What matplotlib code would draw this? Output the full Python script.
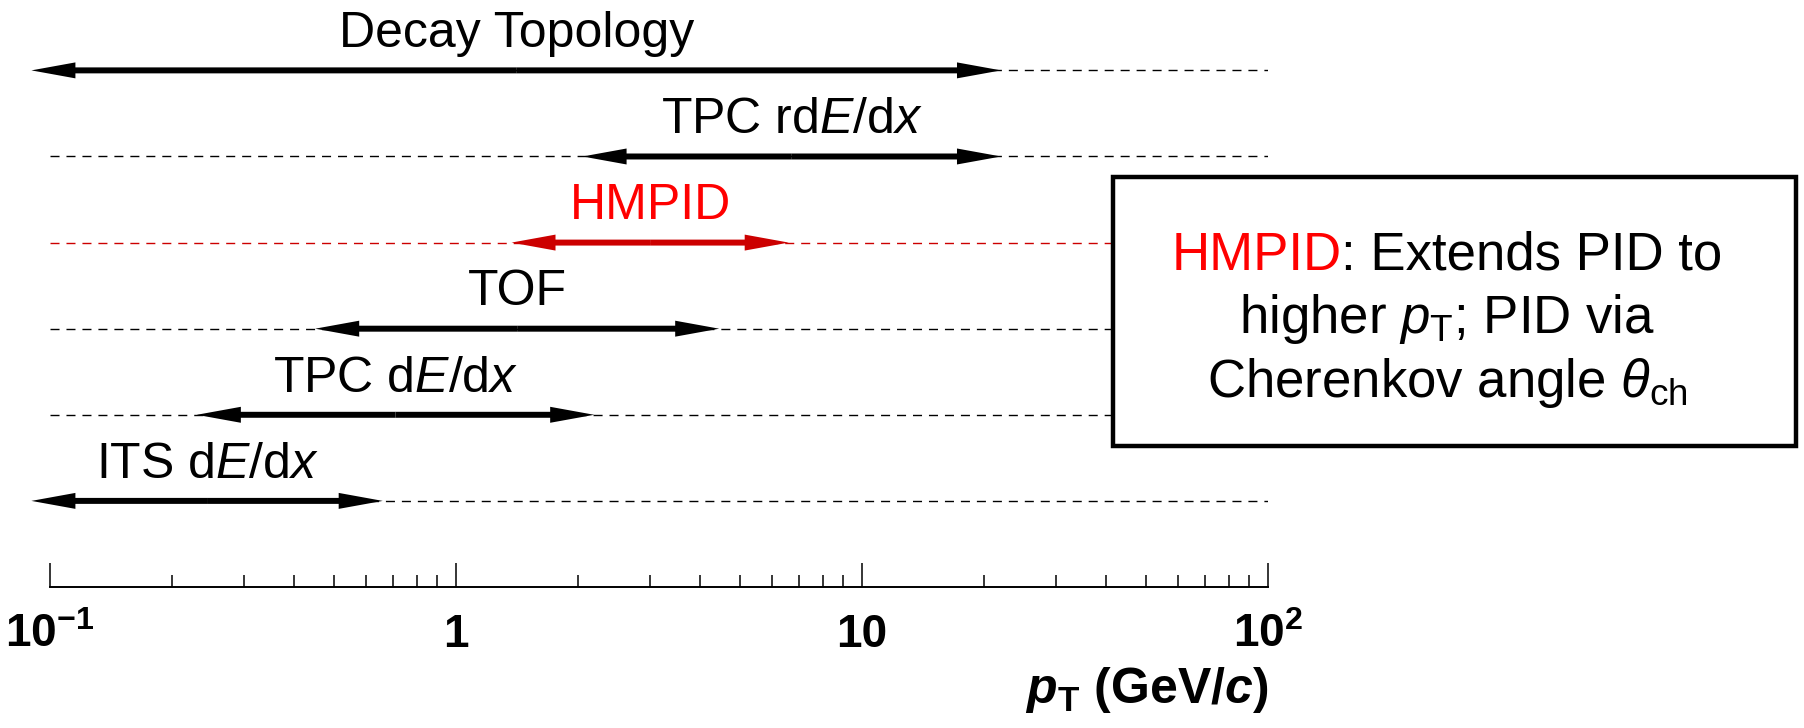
import numpy as np
import matplotlib
matplotlib.use("Agg")
import matplotlib.pyplot as plt
from matplotlib.patches import FancyArrowPatch, Rectangle, ArrowStyle
from matplotlib.ticker import FixedLocator, NullFormatter

plt.rcParams['font.family'] = ['Liberation Sans', 'DejaVu Sans']
plt.rcParams['mathtext.fontset'] = 'custom'
plt.rcParams['mathtext.rm'] = 'Liberation Sans'
plt.rcParams['mathtext.it'] = 'Liberation Sans:italic'
plt.rcParams['mathtext.bf'] = 'Liberation Sans:bold'
try:
    plt.rcParams['mathtext.bfit'] = 'Liberation Sans:italic:bold'
except KeyError:
    pass

# detectors, from top row to bottom row
names = ['Decay Topology', r'TPC rd$E$/d$x$', 'HMPID', 'TOF', r'TPC d$E$/d$x$', r'ITS d$E$/d$x$']
pt_lo = [0.09, 2.05, 1.37, 0.45, 0.23, 0.09]
pt_hi = [22.0, 22.0, 6.6, 4.45, 2.19, 0.66]
rows = [6, 5, 4, 3, 2, 1]
colors = ['black', 'black', '#cc0000', 'black', 'black', 'black']
text_colors = ['black', 'black', '#ff0000', 'black', 'black', 'black']

tick_vals = [0.1, 1, 10, 100]
tick_text = [r'$\mathbf{10^{-1}}$', '1', '10', r'$\mathbf{10^{2}}$']

W, H = 1804, 728
fig = plt.figure(figsize=(W / 100, H / 100), dpi=100)
ax = fig.add_axes([25.6 / W, (H - 587) / H, (1268 - 25.6) / W, 585.5 / H])
ax.set_xscale('log')
ax.set_xlim(10 ** -1.06, 100)
ax.set_ylim(0, 6.8)

for s in ['left', 'right', 'top']:
    ax.spines[s].set_visible(False)
ax.spines['bottom'].set_position(('data', 0))
ax.spines['bottom'].set_bounds(0.1, 100)
ax.spines['bottom'].set_linewidth(1.4)
ax.set_yticks([])
ax.xaxis.set_major_locator(FixedLocator(tick_vals))
minor = [m * 10.0 ** e for e in range(-1, 2) for m in range(2, 10)]
ax.xaxis.set_minor_locator(FixedLocator(minor))
ax.xaxis.set_minor_formatter(NullFormatter())
ax.tick_params(axis='x', which='major', direction='in', length=17.3, width=1.1, labelbottom=False)
ax.tick_params(axis='x', which='minor', direction='in', length=8.6, width=1.1, labelbottom=False)

for v, t in zip(tick_vals, tick_text):
    ax.text(v, -0.70, t, ha='center', va='baseline', fontsize=33, fontweight='bold', clip_on=False)

# dashed guide lines
for y, c in zip(rows, colors):
    ax.plot([0.1, 100], [y, y], color=c, lw=1.0, ls=(0, (6.5, 5)), zorder=1)

# double-headed arrows
style = ArrowStyle('Simple', head_length=31.7, head_width=11.5, tail_width=4.3)
for lo, hi, y, c, tc, name in zip(pt_lo, pt_hi, rows, colors, text_colors, names):
    mid = np.sqrt(lo * hi)
    for end in (lo, hi):
        ax.add_patch(FancyArrowPatch((mid, y), (end, y), arrowstyle=style, mutation_scale=1,
                                     color=c, lw=0, shrinkA=0, shrinkB=0, zorder=3))
    ax.text(mid, y + 0.27, name, ha='center', va='baseline', fontsize=36, color=tc)

fig.text(1268 / W, 1 - 703 / H, r'$\mathbfit{p}_{\mathbf{T}}$ (GeV/$\mathbfit{c}$)',
         ha='right', va='baseline', fontsize=36, fontweight='bold')

# info box
box = Rectangle((1113 / W, 1 - 446 / H), (1796 - 1113) / W, (446 - 177) / H,
                transform=fig.transFigure, facecolor='white', edgecolor='black', lw=3.2, zorder=2)
fig.add_artist(box)

cx = 1447
fs_box = 38
t1 = fig.text(0, 1 - 270 / H, 'HMPID', color='#ff0000', fontsize=fs_box, va='baseline', zorder=3)
t2 = fig.text(0, 1 - 270 / H, ': Extends PID to', color='black', fontsize=fs_box, va='baseline', zorder=3)
fig.canvas.draw()
r = fig.canvas.get_renderer()
w1 = t1.get_window_extent(r).width
w2 = t2.get_window_extent(r).width
x0 = cx - (w1 + w2) / 2
t1.set_x(x0 / W)
t2.set_x((x0 + w1) / W)
fig.text(cx / W, 1 - 333 / H, r'higher $p_{\mathrm{T}}$; PID via', ha='center', va='baseline',
         fontsize=fs_box, zorder=3)
fig.text(cx / W, 1 - 397 / H, r'Cherenkov angle $\theta_{\mathrm{ch}}$', ha='center', va='baseline',
         fontsize=fs_box, zorder=3)

fig.savefig('out.png', dpi=100)
